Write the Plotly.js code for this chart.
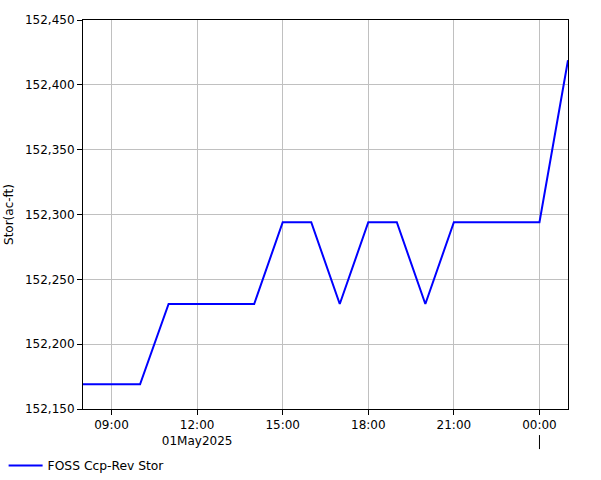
<!DOCTYPE html>
<html>
<head>
<meta charset="utf-8">
<script src="https://cdn.plot.ly/plotly-3.0.1.min.js"></script>
<style>html,body{margin:0;padding:0;background:#fff;}#chart{width:601px;height:480px;}</style>
</head>
<body>
<div id="chart"></div>
<script>
var times = ["2025-05-01 08:00","2025-05-01 09:00","2025-05-01 10:00","2025-05-01 11:00","2025-05-01 12:00","2025-05-01 13:00","2025-05-01 14:00","2025-05-01 15:00","2025-05-01 16:00","2025-05-01 17:00","2025-05-01 18:00","2025-05-01 19:00","2025-05-01 20:00","2025-05-01 21:00","2025-05-01 22:00","2025-05-01 23:00","2025-05-02 00:00","2025-05-02 01:00"];
var storage = [152169,152169,152169,152231,152231,152231,152231,152294,152294,152231,152294,152294,152231,152294,152294,152294,152294,152419];
var tickVals = ["2025-05-01 09:00","2025-05-01 12:00","2025-05-01 15:00","2025-05-01 18:00","2025-05-01 21:00","2025-05-02 00:00"];
var tickText = ["09:00","12:00<br>01May2025","15:00","18:00","21:00","00:00"];
var yTicks = [152150,152200,152250,152300,152350,152400,152450];
var seriesName = "FOSS Ccp-Rev Stor";
var dayBoundary = "2025-05-02 00:00";

var font = {family: "DejaVu Sans, sans-serif", size: 12, color: "#000"};
var trace = {
  x: times, y: storage, type: "scatter", mode: "lines", name: seriesName,
  line: {color: "#0000ff", width: 2}, hoverinfo: "skip"
};
var layout = {
  width: 601, height: 480,
  margin: {l: 83, r: 33, t: 20, b: 71, pad: 0},
  paper_bgcolor: "#fff", plot_bgcolor: "#fff",
  font: font,
  showlegend: true,
  legend: {orientation: "h", xref: "container", yref: "container", x: 0.006, y: 0.0, xanchor: "left", yanchor: "bottom", font: {family: font.family, size: 12.3, color: "#000"}, bgcolor: "rgba(0,0,0,0)", itemwidth: 34},
  xaxis: {
    type: "date", range: [times[0], times[times.length-1]],
    tickvals: tickVals, ticktext: tickText,
    showgrid: true, gridcolor: "#c0c0c0", gridwidth: 1,
    showline: true, linecolor: "#000", linewidth: 1, mirror: true,
    ticks: "outside", ticklen: 5, tickcolor: "#000", tickfont: font,
    zeroline: false
  },
  yaxis: {
    range: [152150, 152450], tickvals: yTicks,
    tickformat: ",d",
    title: {text: "Stor(ac-ft)", font: font, standoff: 8},
    showgrid: true, gridcolor: "#c0c0c0", gridwidth: 1,
    showline: true, linecolor: "#000", linewidth: 1, mirror: true,
    ticks: "outside", ticklen: 5, tickcolor: "#000", tickfont: font,
    zeroline: false
  },
  shapes: [{type: "line", xref: "x", yref: "paper", x0: dayBoundary, x1: dayBoundary, y0: -0.067, y1: -0.103, line: {color: "#000", width: 1}}]
};
Plotly.newPlot("chart", [trace], layout, {staticPlot: true, displayModeBar: false});
</script>
</body>
</html>
